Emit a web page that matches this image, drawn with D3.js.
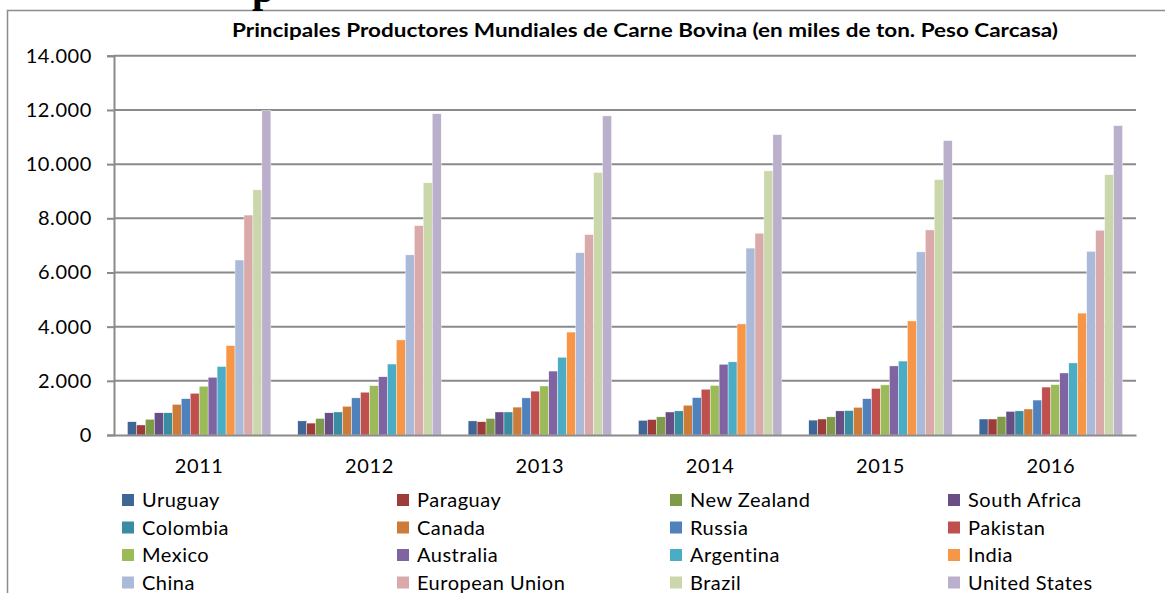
<!DOCTYPE html>
<html>
<head>
<meta charset="utf-8">
<script src="https://cdn.jsdelivr.net/npm/d3@7"></script>
<style>
  body { margin: 0; background: #fff; }
  svg { display: block; }
</style>
</head>
<body>
<svg id="chart" width="1165" height="593"></svg>
<script>
// years on the x axis
const years = ["2011", "2012", "2013", "2014", "2015", "2016"];

// countries, in legend / bar order
const countries = ["Uruguay", "Paraguay", "New Zealand", "South Africa",
    "Colombia", "Canada", "Russia", "Pakistan",
    "Mexico", "Australia", "Argentina", "India",
    "China", "European Union", "Brazil", "United States"];

const colours = ["#3e6697", "#9e3c3a", "#7f9a48", "#674f86",
    "#3a8ca3", "#cc7b38", "#4f81bd", "#c0504d",
    "#9bbb59", "#8064a2", "#4bacc6", "#f79646",
    "#aabad8", "#d9aaa9", "#c9d7ab", "#bab0cb"];

// values in thousand tons, one array per year, same order as countries
const v2011 = [490, 370, 580, 820, 820, 1130, 1340, 1540, 1800, 2130, 2530, 3300, 6460, 8120, 9050, 11980];
const v2012 = [520, 440, 610, 820, 850, 1060, 1370, 1580, 1820, 2150, 2620, 3510, 6650, 7730, 9310, 11860];
const v2013 = [520, 490, 610, 850, 850, 1030, 1370, 1620, 1810, 2360, 2870, 3800, 6730, 7400, 9690, 11780];
const v2014 = [540, 570, 670, 850, 890, 1100, 1380, 1690, 1830, 2610, 2700, 4100, 6900, 7450, 9750, 11090];
const v2015 = [550, 590, 670, 890, 900, 1020, 1340, 1720, 1850, 2550, 2730, 4210, 6760, 7570, 9430, 10870];
const v2016 = [590, 590, 680, 870, 890, 960, 1290, 1770, 1860, 2290, 2660, 4500, 6780, 7560, 9610, 11420];
const values = [v2011, v2012, v2013, v2014, v2015, v2016];

const yTicks = [0, 2000, 4000, 6000, 8000, 10000, 12000, 14000];
const tickLabels = ["0", "2.000", "4.000", "6.000", "8.000", "10.000", "12.000", "14.000"];

const title = "Principales Productores Mundiales de Carne Bovina (en miles de ton. Peso Carcasa)";

const font = "Lato, 'Open Sans', sans-serif";

const svg = d3.select("#chart");

// outer frame, runs off the right and bottom of the picture
svg.append("rect")
    .attr("x", 7.5).attr("y", 10.5)
    .attr("width", 1200).attr("height", 700)
    .attr("fill", "none")
    .attr("stroke", "#8c8c8c")
    .attr("stroke-width", 1.5);

// bit of a heading cut by the top edge
svg.append("text")
    .attr("x", 252).attr("y", 2)
    .style("font-family", "'Liberation Serif', serif")
    .style("font-weight", "bold")
    .style("font-size", "40px")
    .text("p");

svg.append("text")
    .attr("x", 645).attr("y", 37)
    .attr("text-anchor", "middle")
    .attr("textLength", 826)
    .attr("lengthAdjust", "spacingAndGlyphs")
    .style("font-family", font)
    .style("font-weight", "bold")
    .style("font-size", "18px")
    .text(title);

const plotLeft = 114, plotRight = 1136, plotTop = 55.8, plotBottom = 435;

const x0 = d3.scaleBand()
    .domain(years)
    .range([plotLeft, plotRight])
    .paddingInner(0.158)
    .paddingOuter(0.079);

const x1 = d3.scaleBand()
    .domain(countries)
    .range([0, x0.bandwidth()]);

const y = d3.scaleLinear()
    .domain([0, 14000])
    .range([plotBottom, plotTop]);

// gridlines
svg.append("g")
    .selectAll("line")
    .data(yTicks.slice(1))
    .enter()
    .append("line")
    .attr("x1", plotLeft).attr("x2", plotRight)
    .attr("y1", d => y(d)).attr("y2", d => y(d))
    .attr("stroke", "#8a8a8a")
    .attr("stroke-width", 2);

// y axis
const yAxis = svg.append("g")
    .attr("transform", "translate(" + plotLeft + ",0)")
    .call(d3.axisLeft(y).tickValues(yTicks).tickSize(7).tickPadding(15)
        .tickFormat((d, i) => tickLabels[i]));
yAxis.select(".domain").attr("stroke", "#8a8a8a").attr("stroke-width", 2);
yAxis.selectAll(".tick line").attr("stroke", "#8a8a8a").attr("stroke-width", 2);
yAxis.selectAll(".tick text")
    .style("font-family", font)
    .style("font-size", "20px")
    .style("letter-spacing", "0.6px")
    .attr("fill", "#000");

// bars
svg.append("g")
    .selectAll("g")
    .data(years)
    .enter()
    .append("g")
    .attr("transform", d => "translate(" + x0(d) + ",0)")
    .selectAll("rect")
    .data((d, i) => values[i].map((v, j) => ({ country: countries[j], value: v, colour: colours[j] })))
    .enter()
    .append("rect")
    .attr("x", d => x1(d.country))
    .attr("y", d => y(d.value))
    .attr("width", x1.bandwidth())
    .attr("height", d => plotBottom - y(d.value))
    .attr("fill", d => d.colour)
    .attr("stroke", "#fff")
    .attr("stroke-width", 0.4);

// x axis
const xAxis = svg.append("g")
    .attr("transform", "translate(0," + plotBottom + ")")
    .call(d3.axisBottom(x0).tickSize(0).tickPadding(24));
xAxis.select(".domain").attr("stroke", "#8a8a8a").attr("stroke-width", 2);
xAxis.selectAll(".tick text")
    .style("font-family", font)
    .style("font-size", "20px")
    .style("letter-spacing", "0.6px")
    .attr("fill", "#000");

// legend, 4 columns
const colX = [122, 397, 670, 948];
const rowY = [500, 527.5, 555, 582.5];

const legend = svg.append("g")
    .selectAll("g")
    .data(countries)
    .enter()
    .append("g")
    .attr("transform", (d, i) => "translate(" + colX[i % 4] + "," + rowY[Math.floor(i / 4)] + ")");

legend.append("rect")
    .attr("x", 0).attr("y", -6)
    .attr("width", 12).attr("height", 12)
    .attr("fill", (d, i) => colours[i]);

legend.append("text")
    .attr("x", 20).attr("y", 7)
    .style("font-family", font)
    .style("font-size", "20px")
    .style("letter-spacing", "0.5px")
    .text(d => d);
</script>
</body>
</html>
